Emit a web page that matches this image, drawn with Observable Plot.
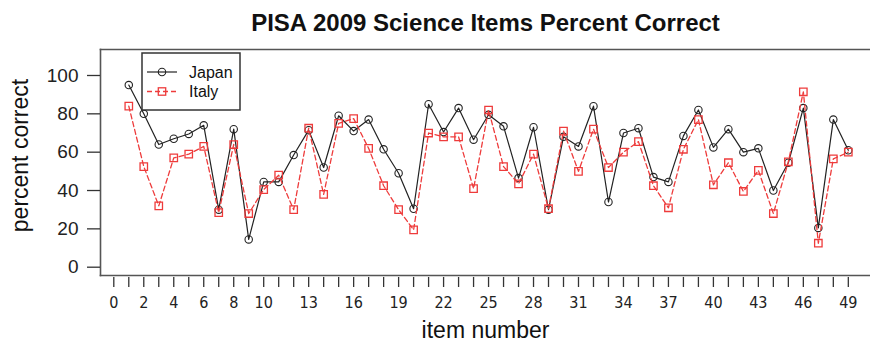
<!DOCTYPE html>
<html>
<head>
<meta charset="utf-8">
<script src="https://cdn.jsdelivr.net/npm/d3@7"></script>
<script src="https://cdn.jsdelivr.net/npm/@observablehq/plot@0.6"></script>
<style>
  html, body { margin: 0; padding: 0; background: #fff; overflow: hidden; }
  #wrap { position: relative; width: 870px; height: 346px; font-family: "Liberation Sans", Arial, sans-serif; }
  #legend { position: absolute; left: 0; top: 0; pointer-events: none; }
</style>
</head>
<body>
<div id="wrap"></div>
<script>
const title = "PISA 2009 Science Items Percent Correct";
const xLabel = "item number";
const yLabel = "percent correct";
const seriesNames = ["Japan", "Italy"];
const items = d3.range(1, 50);
const japan = [95,80,64,67,69.5,74,30,72,14.5,44.5,44.5,58.5,71.5,52,79,71,77,61.5,49,30.5,85,70.5,83,66.5,79.5,73.5,46.5,73,30,68,63,84,34,70,72.5,47,44.5,68.5,82,62.5,72,60,62,40,54.5,83,20.5,77,61];
const italy = [84,52.5,32,57,59,63,28.5,64,28,40.5,48,30,72.5,38,75,77.5,62,42.5,30,19.5,70,68,68,41,82,52.5,43.5,59,30.5,71,50,72,52,60,65.5,42.5,31,61.5,77,43,54.5,39.5,50.5,28,55,91.5,12.5,56.5,60];
const xTicks = d3.range(0, 50);
const xTickLabels = [0,2,4,6,8,10,13,16,19,22,25,28,31,34,37,40,43,46,49];
const yTicks = [0,20,40,60,80,100];

const jp = items.map((d, i) => ({item: d, value: japan[i]}));
const it = items.map((d, i) => ({item: d, value: italy[i]}));

const red = "#ee3b3b";
const dark = "#222";

const chart = Plot.plot({
  width: 870,
  height: 346,
  marginLeft: 100,
  marginRight: 0,
  marginTop: 49,
  marginBottom: 71,
  style: {fontFamily: "'Liberation Sans', Arial, sans-serif", background: "#fff", overflow: "visible"},
  x: {domain: [-0.887, 50.48], axis: null},
  y: {domain: [-4.33, 113.56], axis: null},
  marks: [
    Plot.frame({anchor: "top", stroke: "#555", strokeWidth: 1.6}),
    Plot.frame({anchor: "left", stroke: "#555", strokeWidth: 1.6}),
    Plot.frame({anchor: "bottom", stroke: "#555", strokeWidth: 1.6}),
    Plot.axisY({ticks: yTicks, tickSize: 13, text: null, stroke: "#333", strokeWidth: 1.3, label: null}),
    Plot.text(yTicks, {y: d => d, frameAnchor: "left", textAnchor: "end", dx: -22, fontSize: 19, fill: "#222"}),
    Plot.axisX({ticks: xTicks, tickSize: 10, dy: 2, text: null, stroke: "#333", strokeWidth: 1.3, label: null}),
    Plot.axisX({ticks: xTickLabels, tickSize: 0, tickPadding: 21, fontSize: 16, fontFamily: "'Liberation Sans Narrow', 'DejaVu Sans Condensed', 'Liberation Sans', sans-serif", label: null, fill: "#222"}),
    Plot.line(jp, {x: "item", y: "value", stroke: dark, strokeWidth: 1.2}),
    Plot.dot(jp, {x: "item", y: "value", r: 3.7, stroke: dark, strokeWidth: 1.1, fill: "none"}),
    Plot.line(it, {x: "item", y: "value", stroke: red, strokeWidth: 1.3, strokeDasharray: "5,3"}),
    Plot.dot(it, {x: "item", y: "value", symbol: "square", r: 4.2, stroke: red, strokeWidth: 1.3, fill: "none"}),
    Plot.text([title], {frameAnchor: "top", lineAnchor: "bottom", dy: -19, fontSize: 24, fontWeight: "bold", fill: "#111"}),
    Plot.text([xLabel], {frameAnchor: "bottom", lineAnchor: "bottom", dy: 62, fontSize: 23, fill: "#111"}),
    Plot.text([yLabel], {frameAnchor: "left", textAnchor: "middle", lineAnchor: "bottom", rotate: -90, dx: -73, dy: -7, fontSize: 23, fill: "#111"})
  ]
});

const wrap = document.getElementById("wrap");
wrap.appendChild(chart);

// Legend (decorative box, drawn as an overlay)
const ns = "http://www.w3.org/2000/svg";
const lg = document.createElementNS(ns, "svg");
lg.setAttribute("id", "legend");
lg.setAttribute("width", 870);
lg.setAttribute("height", 346);
lg.innerHTML = `
  <rect x="142" y="53" width="98" height="57" fill="#fff" stroke="#333" stroke-width="1.5"/>
  <line x1="147" y1="72" x2="177" y2="72" stroke="${dark}" stroke-width="1.2"/>
  <circle cx="162" cy="72" r="3.7" fill="none" stroke="${dark}" stroke-width="1.1"/>
  <text x="189" y="72" dy="0.35em" font-size="16" fill="#111" font-family="'Liberation Sans', Arial, sans-serif">${seriesNames[0]}</text>
  <line x1="147" y1="91.5" x2="177" y2="91.5" stroke="${red}" stroke-width="1.3" stroke-dasharray="5,3"/>
  <rect x="158.3" y="87.8" width="7.4" height="7.4" fill="none" stroke="${red}" stroke-width="1.3"/>
  <text x="189" y="91.5" dy="0.35em" font-size="16" fill="#111" font-family="'Liberation Sans', Arial, sans-serif">${seriesNames[1]}</text>
`;
wrap.appendChild(lg);
</script>
</body>
</html>
